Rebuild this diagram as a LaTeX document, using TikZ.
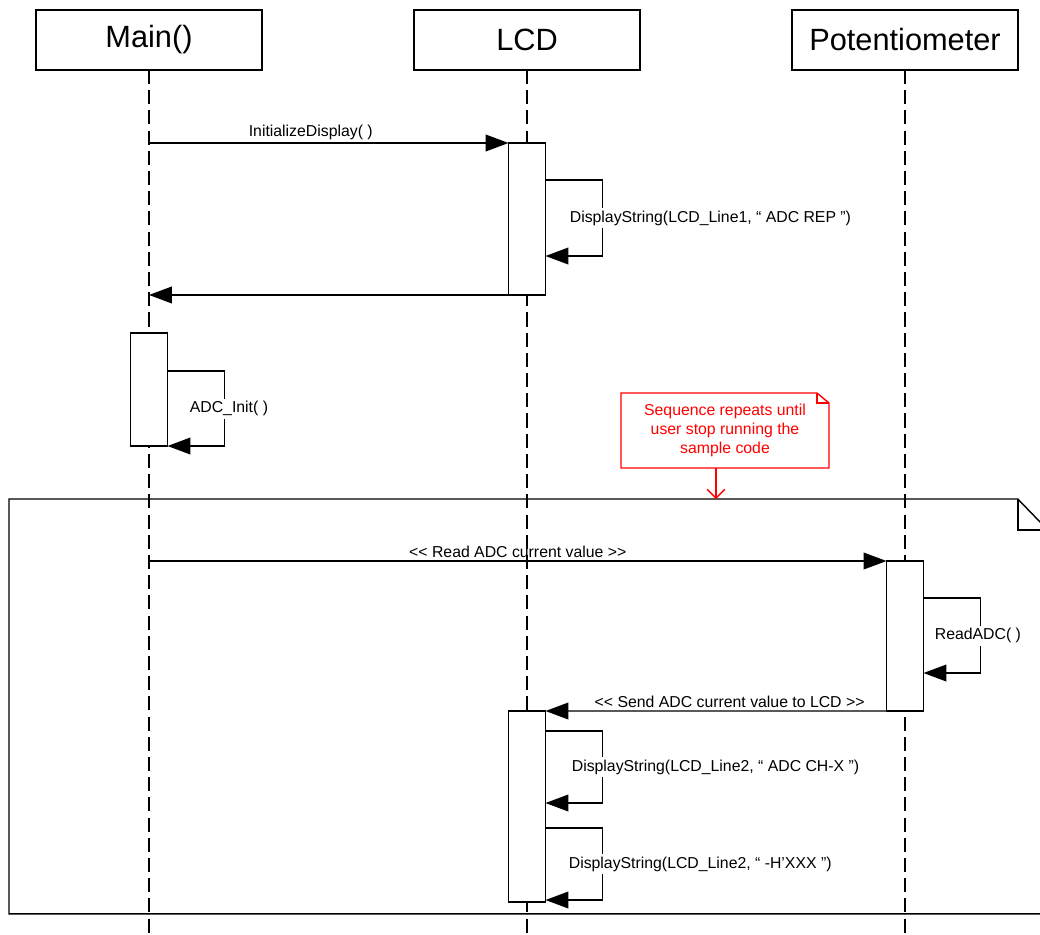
\documentclass[tikz,border=0pt]{standalone}
\usepackage{fontspec}
\setmainfont{Liberation Sans}
\usetikzlibrary{calc, positioning, arrows.meta}

\tikzset{
  head/.style={draw, line width=0.8pt, minimum width=4.52cm, minimum height=1.2cm, outer sep=0pt, font=\fontsize{17.5}{20}\selectfont},
  lifeline/.style={line width=0.8pt, dash pattern=on 8pt off 3.5pt},
  act/.style={draw, fill=white, line width=0.8pt, minimum width=0.74cm, inner sep=0pt, outer sep=0pt, anchor=north},
  msg/.style={line width=0.8pt, -{Triangle[length=13pt, width=9.5pt]}},
  lbl/.style={font=\fontsize{9}{11}\selectfont, inner sep=1.5pt},
  looplbl/.style={lbl, fill=white, anchor=west},
  note/.style={fill=white, text=red, align=center, minimum width=4.16cm, minimum height=1.5cm, outer sep=0pt, font=\fontsize{9}{11}\selectfont},
}

\begin{document}
\begin{tikzpicture}[x=0.02cm, y=-0.02cm]
  \useasboundingbox (0,0) rectangle (1040,934);
  \clip (0,0) rectangle (1040,934);

  % loop frame
  \node[minimum width=20.78cm, minimum height=8.3cm, anchor=north west, inner sep=0pt, outer sep=0pt] (loop) at (9,499) {};
  \draw[line width=0.8pt] ($(loop.north east)+(-30,0)$) -- (loop.north west) -- (loop.south west) -- (loop.south east) -- ($(loop.north east)+(0,31)$) -- cycle;
  \draw[line width=0.8pt] ($(loop.north east)+(-30,0)$) |- ($(loop.north east)+(0,31)$);

  % heads and lifelines
  \node[head] (main) at (149,40) {Main()};
  \node[head] (lcd) at (527,40) {LCD};
  \node[head] (pot) at (905,40) {Potentiometer};
  \coordinate (bottom) at (0,940);
  \draw[lifeline] (main.south) -- (main.south |- bottom);
  \draw[lifeline] (lcd.south) -- (lcd.south |- bottom);
  \draw[lifeline] (pot.south) -- (pot.south |- bottom);

  % activations
  \node[act, minimum height=3.04cm] (lcdA) at (527,143) {};
  \node[act, minimum height=2.26cm] (mainA) at (149,333) {};
  \node[act, minimum height=3.0cm] (potA) at (905,561) {};
  \node[act, minimum height=3.82cm] (lcdB) at (527,711) {};

  % init display
  \draw[msg] (main |- lcdA.north west) -- node[lbl, above, pos=0.45] {InitializeDisplay( )} (lcdA.north west);
  \draw[msg] ($(lcdA.north east)+(0,37)$) -- ++(57,0) -- ++(0,76)
    node[looplbl, midway, xshift=-0.72cm] {DisplayString(LCD\_Line1, “ ADC REP ”)} -- ++(-57,0);
  \draw[msg] (lcdA.south west) -- (main |- lcdA.south west);

  % adc init
  \draw[msg] ($(mainA.north east)+(0,38)$) -- ++(57,0) -- ++(0,75)
    node[looplbl, midway, xshift=-0.76cm] {ADC\_Init( )} -- ++(-57,0);

  % note
  \node[note] (note) at (725,430.5) {Sequence repeats until\\user stop running the\\sample code};
  \draw[red, line width=0.8pt] (note.north west) -- ($(note.north east)+(-12,0)$) -- ($(note.north east)+(0,10)$) -- (note.south east) -- (note.south west) -- cycle;
  \draw[red, line width=0.8pt] ($(note.north east)+(-12,0)$) |- ($(note.north east)+(0,10)$);
  \coordinate (notetip) at ($(note.south)+(-9,0)$);
  \draw[red, line width=0.8pt, -{Straight Barb[length=5pt, width=10pt]}] (notetip) -- (notetip |- loop.north);

  % read adc
  \draw[msg] (main |- potA.north west) -- node[lbl, above] {<\kern0pt< Read ADC current value >\kern0pt>} (potA.north west);
  \draw[msg] ($(potA.north east)+(0,37)$) -- ++(57,0) -- ++(0,75)
    node[looplbl, midway, xshift=-0.98cm] {ReadADC( )} -- ++(-57,0);
  \draw[msg] (potA.south west) -- node[lbl, above, pos=0.46] {<\kern0pt< Send ADC current value to LCD >\kern0pt>} (lcdB.north east);

  % display value
  \draw[msg] ($(lcdB.north east)+(0,20)$) -- ++(57,0) -- ++(0,72)
    node[looplbl, midway, xshift=-0.68cm] {DisplayString(LCD\_Line2, “ ADC CH-X ”)} -- ++(-57,0);
  \draw[msg] ($(lcdB.north east)+(0,117)$) -- ++(57,0) -- ++(0,72)
    node[looplbl, midway, xshift=-0.74cm] {DisplayString(LCD\_Line2, “ -H’XXX ”)} -- ++(-57,0);
\end{tikzpicture}
\end{document}
